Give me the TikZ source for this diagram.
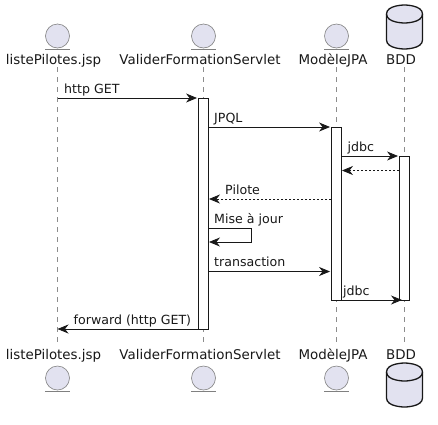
\documentclass[tikz,border=0pt]{standalone}
\usepackage{fontspec}
\setmainfont{DejaVu Sans}
\usepackage{xcolor}
\usetikzlibrary{arrows.meta,calc}
\definecolor{umlfill}{HTML}{E2E2F0}
\definecolor{umlline}{HTML}{181818}

\begin{document}
\begin{tikzpicture}[
  x=1pt, y=-1pt,
  actorlabel/.style={anchor=base, inner sep=0pt, text height=11pt, text depth=3pt,
                     font=\fontsize{13.4}{16}\selectfont, text=umlline},
  msglabel/.style={anchor=base west, inner sep=0pt,
                   font=\fontsize{12.6}{15}\selectfont, text=umlline},
  lifeline/.style={draw=gray!90, line width=0.5pt, dash pattern=on 5pt off 5pt},
  activation/.style={rectangle, draw=umlline, fill=white, line width=0.9pt, inner sep=0pt,
                     minimum width=10pt},
  msg/.style={draw=umlline, line width=0.8pt,
              -{Stealth[length=11pt,width=9pt,inset=3.5pt]}},
  retmsg/.style={msg, dash pattern=on 2pt off 2pt},
  entitycircle/.style={circle, draw=gray, fill=umlfill, line width=0.6pt,
                       inner sep=0pt, minimum size=24pt},
  dbbody/.style={draw=umlline, fill=umlfill, line width=1.3pt},
  dbicon/.pic={
    \path[dbbody] (-18,-13) .. controls (-18,-22) and (0,-22) .. (0,-22)
      .. controls (0,-22) and (18,-22) .. (18,-13) -- (18,13)
      .. controls (18,22) and (0,22) .. (0,22)
      .. controls (0,22) and (-18,22) .. (-18,13) -- cycle;
    \draw[umlline, line width=1.3pt] (-18,-13) .. controls (-18,-4) and (0,-4) .. (0,-4)
      .. controls (0,-4) and (18,-4) .. (18,-13);
  }
]
  \useasboundingbox (0,0) rectangle (438,424);

  % Actors
  \foreach \id/\txt/\px/\lx in {liste/listePilotes.jsp/57.5/53.5,
                                valider/ValiderFormationServlet/203.5/200,
                                modele/ModèleJPA/336.5/333,
                                bdd/BDD/404.5/401} {
    \node[actorlabel] (\id head) at (\lx,64) {\txt};
    \node[actorlabel] (\id foot) at (\lx,359) {\txt};
    \coordinate (\id start) at (\px,67);
    \coordinate (\id end) at (\px,342);
    \draw[lifeline] (\id start) -- (\id end);
  }

  % Entity icons
  \foreach \id in {liste,valider,modele} {
    \node[entitycircle] (\id top) at ($(\id start)+(0,-31)$) {};
    \node[entitycircle] (\id bot) at ($(\id end)+(0,36)$) {};
    \draw[gray, line width=0.6pt] ($(\id top.south)+(-12.5,1)$) -- ++(25,0);
    \draw[gray, line width=0.6pt] ($(\id bot.south)+(-12.5,1)$) -- ++(25,0);
  }

  % Database icons
  \pic at (404.5,27) {dbicon};
  \pic at (404.5,385) {dbicon};

  % Activations
  \node[activation, minimum height=231pt] (actvalider) at (203.5,213.5) {};
  \node[activation, minimum height=173pt] (actmodele) at (336.5,213.5) {};
  \node[activation, minimum height=144pt] (actbdd) at (404.5,228) {};

  % Message levels
  \coordinate (yget) at (0,98);
  \coordinate (yjpql) at (0,127);
  \coordinate (yjdbc) at (0,156);
  \coordinate (yback) at (0,170.5);
  \coordinate (ypilote) at (0,199);
  \coordinate (yselfa) at (0,228.5);
  \coordinate (yselfb) at (0,242);
  \coordinate (ytrans) at (0,271.5);
  \coordinate (yclose) at (0,300);
  \coordinate (yforward) at (0,329);
  \coordinate (selfturn) at (251,0);
  \coordinate (jdbcend) at (402,300);

  % Messages
  \draw[msg] (listestart |- yget) -- ($(actvalider.west |- yget)+(-1,0)$);
  \draw[msg] (actvalider.east |- yjpql) -- ($(actmodele.west |- yjpql)+(-1,0)$);
  \draw[msg] (actmodele.east |- yjdbc) -- ($(actbdd.west |- yjdbc)+(-1,0)$);
  \draw[retmsg] (actbdd.west |- yback) -- (actmodele.east |- yback);
  \draw[retmsg] (actmodele.west |- ypilote) -- (actvalider.east |- ypilote);
  \draw[msg] (actvalider.east |- yselfa) -- (selfturn |- yselfa) -- (selfturn |- yselfb)
    -- (actvalider.east |- yselfb);
  \draw[msg] (actvalider.east |- ytrans) -- ($(actmodele.west |- ytrans)+(-1,0)$);
  \draw[msg] (actmodele.east |- yclose) -- (jdbcend);
  \draw[msg] (actvalider.west |- yforward) -- (listestart |- yforward);

  % Labels
  \node[msglabel] (lblget) at (64,93) {http GET};
  \node[msglabel] (lbljpql) at (214,122) {JPQL};
  \node[msglabel] (lbljdbc) at (347.5,151) {jdbc};
  \node[msglabel] (lblpilote) at (225,194) {Pilote};
  \node[msglabel] (lblmaj) at (214,223.5) {Mise à jour};
  \node[msglabel] (lbltrans) at (214,266.5) {transaction};
  \node[msglabel] (lblclose) at (343,295) {jdbc};
  \node[msglabel] (lblforward) at (73.5,324) {forward (http GET)};
\end{tikzpicture}
\end{document}
